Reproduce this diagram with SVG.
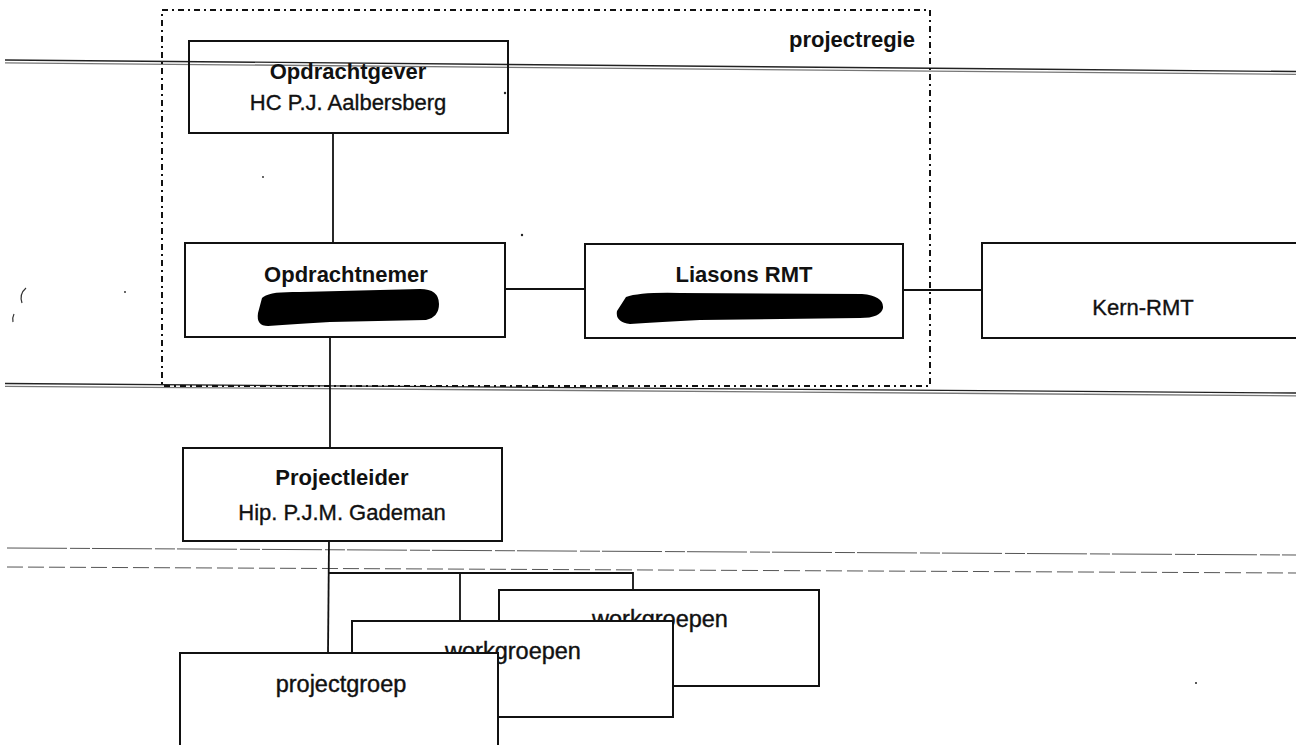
<svg xmlns="http://www.w3.org/2000/svg" width="1296" height="745" viewBox="0 0 1296 745">
  <style>
    .box { fill: none; stroke: #111; stroke-width: 2; }
    .stack { fill: #fff; stroke: #111; stroke-width: 2; }
    .link { fill: none; stroke: #111; stroke-width: 1.8; }
    .rule-a { stroke: #222; stroke-width: 1.3; fill: none; }
    .rule-b { stroke: #777; stroke-width: 1.3; fill: none; }
    .thin { stroke: #555; stroke-width: 1; fill: none; }
    .title { font-family: "Liberation Sans", Arial, sans-serif; font-size: 22px; font-weight: bold; fill: #111; text-anchor: middle; }
    .name { font-family: "Liberation Sans", Arial, sans-serif; font-size: 22px; fill: #111; stroke: #111; stroke-width: 0.35; text-anchor: middle; }
    .group { font-family: "Liberation Sans", Arial, sans-serif; font-size: 23.5px; fill: #111; stroke: #111; stroke-width: 0.4; text-anchor: middle; }
    .redact { fill: #000; }
    .speck { fill: #222; }
  </style>

  <rect width="1296" height="745" fill="#fff"/>

  <!-- horizontal rules across the page -->
  <g id="rules">
    <line class="rule-a" x1="5" y1="60" x2="1296" y2="71.5"/>
    <line class="rule-b" x1="5" y1="62.8" x2="1296" y2="74.3"/>
    <line class="rule-a" x1="5" y1="383.5" x2="1296" y2="393"/>
    <line class="rule-b" x1="5" y1="386.3" x2="1296" y2="395.8"/>
    <line class="thin" x1="7" y1="548" x2="1296" y2="555" stroke-dasharray="60 3 20 2"/>
    <line class="thin" x1="7" y1="567" x2="1296" y2="573" stroke="#333" stroke-dasharray="16 5"/>
  </g>

  <!-- projectregie boundary -->
  <g id="projectregie">
    <rect x="162" y="10" width="768" height="376" fill="none" stroke="#111" stroke-width="2" stroke-dasharray="6 4 2 4"/>
    <text class="title" x="852" y="47">projectregie</text>
  </g>

  <!-- connectors -->
  <g id="connectors">
    <line class="link" x1="333" y1="133" x2="333" y2="243"/>
    <line class="link" x1="505" y1="289" x2="585" y2="289"/>
    <line class="link" x1="903" y1="290" x2="982" y2="290"/>
    <line class="link" x1="330" y1="337" x2="330" y2="448"/>
    <line class="link" x1="329" y1="541" x2="328" y2="653"/>
    <polyline class="link" points="328,573 633,573 633,590"/>
    <line class="link" x1="460" y1="573" x2="460" y2="621"/>
  </g>

  <g id="opdrachtgever">
    <rect class="box" x="189" y="41" width="319" height="92"/>
    <text class="title" x="348" y="79">Opdrachtgever</text>
    <text class="name" x="348" y="110">HC P.J. Aalbersberg</text>
  </g>

  <g id="opdrachtnemer">
    <rect class="box" x="185" y="243" width="320" height="94"/>
    <text class="title" x="346" y="282">Opdrachtnemer</text>
    <path class="redact" d="M262,298 Q268,291 300,292 L420,289 Q439,289 439,304 Q439,317 426,320 L330,322 Q296,324 268,326 Q256,326 258,313 Z"/>
  </g>

  <g id="liasons-rmt">
    <rect class="box" x="585" y="244" width="318" height="94"/>
    <text class="title" x="744" y="282">Liasons RMT</text>
    <path class="redact" d="M626,297 Q640,292 680,293 L862,294 Q884,296 883,308 Q881,318 860,318 L700,320 Q660,322 630,324 Q615,322 617,311 Z"/>
  </g>

  <g id="kern-rmt">
    <rect class="box" x="982" y="243" width="330" height="95"/>
    <text class="name" x="1143" y="315">Kern-RMT</text>
  </g>

  <g id="projectleider">
    <rect class="box" x="183" y="448" width="319" height="93"/>
    <text class="title" x="342" y="485">Projectleider</text>
    <text class="name" x="342" y="520">Hip. P.J.M. Gademan</text>
  </g>

  <g id="workgroepen-back">
    <rect class="stack" x="499" y="590" width="320" height="96"/>
    <text class="group" x="660" y="627">workgroepen</text>
  </g>

  <g id="workgroepen-front">
    <rect class="stack" x="352" y="621" width="321" height="96"/>
    <text class="group" x="513" y="659">workgroepen</text>
  </g>

  <g id="projectgroep">
    <rect class="stack" x="180" y="653" width="318" height="100"/>
    <text class="group" x="341" y="692">projectgroep</text>
  </g>

  <!-- loose marks -->
  <g id="marks">
    <path d="M26,288 Q19,294 22,303" fill="none" stroke="#333" stroke-width="1.2"/>
    <path d="M14,314 Q12,318 13,322" fill="none" stroke="#333" stroke-width="1.2"/>
    <circle class="speck" cx="505" cy="93" r="1.2"/>
    <circle class="speck" cx="522" cy="235" r="1.2"/>
    <circle class="speck" cx="263" cy="177" r="0.9"/>
    <circle class="speck" cx="125" cy="292" r="0.9"/>
    <circle class="speck" cx="1196" cy="683" r="1"/>
  </g>
</svg>
